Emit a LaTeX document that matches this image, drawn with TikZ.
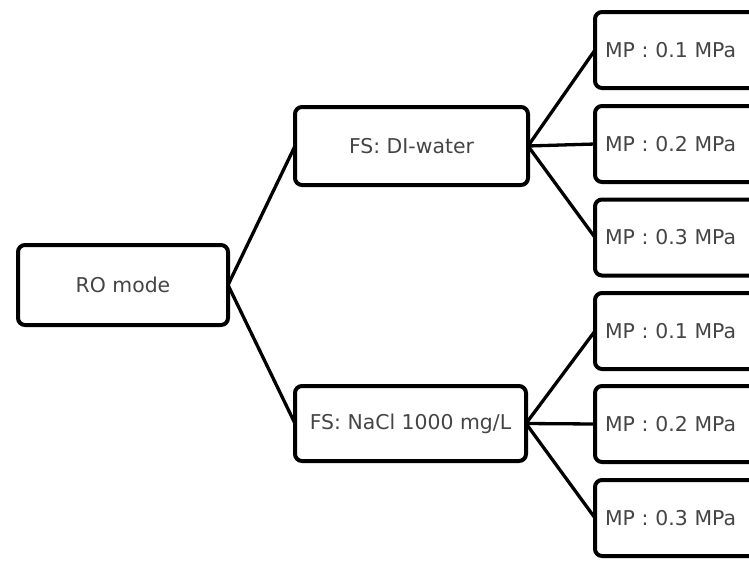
\documentclass[tikz,border=0pt]{standalone}
\usepackage{fontspec}
\setmainfont{DejaVu Sans}
\definecolor{txtgray}{HTML}{454545}
\begin{document}
\begin{tikzpicture}[x=1pt,y=-1pt,
  box/.style={draw=black, line width=4pt, rounded corners=7pt, fill=white,
    text=txtgray, font=\fontsize{20.4}{24}\selectfont, inner sep=0pt, outer sep=0pt},
  mpbox/.style={box, minimum width=162pt, minimum height=76pt, text width=142pt,
    align=left, inner xsep=10pt},
  conn/.style={draw=black, line width=3.3pt}]
\useasboundingbox (0,0) rectangle (749,560);
\clip (0,0) rectangle (749,560);
\node[box, minimum width=210pt, minimum height=80pt] (ro) at (123,285) {RO mode};
\node[box, minimum width=233pt, minimum height=78pt] (di) at (411.5,146) {FS: DI-water};
\node[box, minimum width=231pt, minimum height=75pt] (nacl) at (410.5,423.5) {FS: NaCl 1000 mg/L};
\node[mpbox] (m1) at (676,50) {MP : 0.1 MPa};
\node[mpbox] (m2) at (676,144) {MP : 0.2 MPa};
\node[mpbox] (m3) at (676,237.5) {MP : 0.3 MPa};
\node[mpbox] (m4) at (676,331) {MP : 0.1 MPa};
\node[mpbox] (m5) at (676,424) {MP : 0.2 MPa};
\node[mpbox] (m6) at (676,518) {MP : 0.3 MPa};
\draw[conn] (ro.east) -- (di.west);
\draw[conn] (ro.east) -- (nacl.west);
\draw[conn] (di.east) -- (m1.west);
\draw[conn] (di.east) -- (m2.west);
\draw[conn] (di.east) -- (m3.west);
\draw[conn] (nacl.east) -- (m4.west);
\draw[conn] (nacl.east) -- (m5.west);
\draw[conn] (nacl.east) -- (m6.west);
\end{tikzpicture}
\end{document}
